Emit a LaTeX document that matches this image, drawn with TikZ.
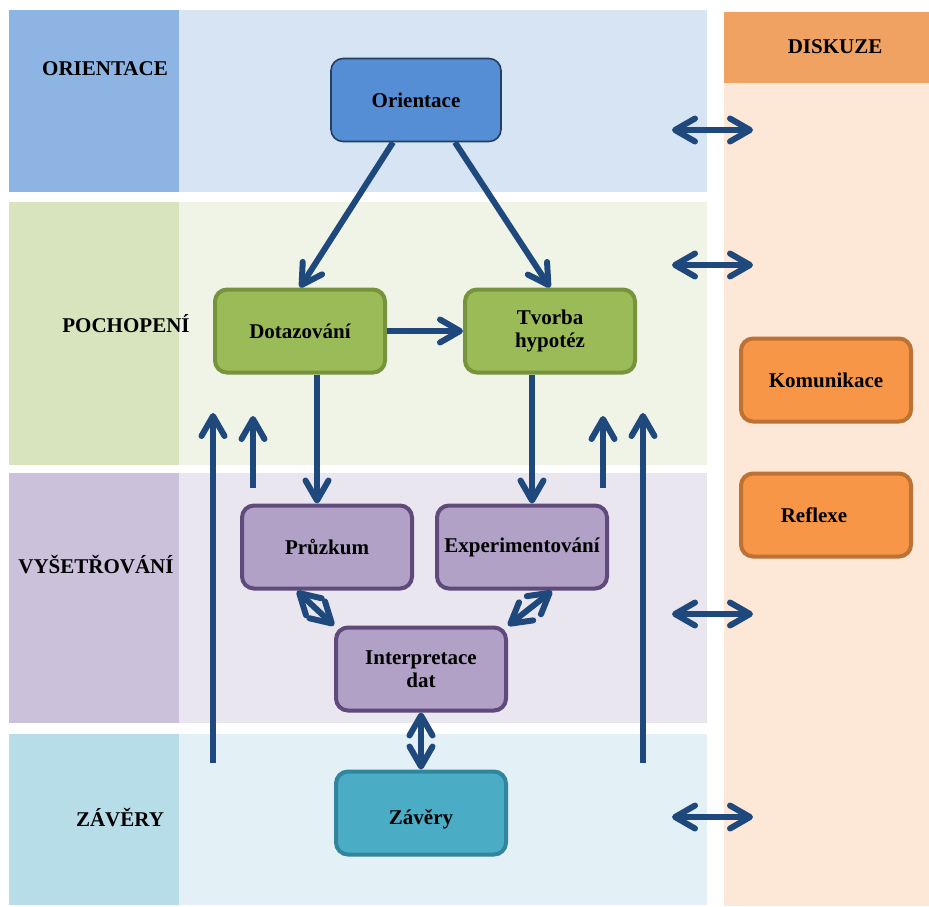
\documentclass[tikz,border=0pt]{standalone}
\usepackage{fontspec}
\setmainfont{Liberation Serif}
\usetikzlibrary{arrows.meta,calc}
\definecolor{flowblue}{HTML}{1F497D}
\definecolor{orDark}{HTML}{8EB4E3}
\definecolor{orLight}{HTML}{D7E4F4}
\definecolor{poDark}{HTML}{D7E4BD}
\definecolor{poLight}{HTML}{EFF4E7}
\definecolor{vyDark}{HTML}{CCC1DA}
\definecolor{vyLight}{HTML}{E9E6F0}
\definecolor{zaDark}{HTML}{B7DEE8}
\definecolor{zaLight}{HTML}{E3F1F6}
\definecolor{diHead}{HTML}{F0A262}
\definecolor{diBody}{HTML}{FDE7D7}
\definecolor{orFill}{HTML}{558ED5}
\definecolor{orLine}{HTML}{243F60}
\definecolor{poFill}{HTML}{9BBB59}
\definecolor{poLine}{HTML}{77933C}
\definecolor{vyFill}{HTML}{B2A1C7}
\definecolor{vyLine}{HTML}{604A7B}
\definecolor{zaFill}{HTML}{4BACC6}
\definecolor{zaLine}{HTML}{31859C}
\definecolor{diFill}{HTML}{F79646}
\definecolor{diLine}{HTML}{BC7234}
\tikzset{
  stage/.style={rounded corners=6pt,minimum width=85pt,minimum height=41.5pt,
    align=center,inner sep=2pt,line width=2pt},
  orStage/.style={stage,fill=orFill,draw=orLine,line width=0.8pt},
  poStage/.style={stage,fill=poFill,draw=poLine},
  vyStage/.style={stage,fill=vyFill,draw=vyLine},
  zaStage/.style={stage,fill=zaFill,draw=zaLine},
  diStage/.style={stage,fill=diFill,draw=diLine},
  barb/.tip={Straight Barb[length=10pt,width=11.5pt,round]},
  flow/.style={flowblue,line width=3pt,-barb},
  twoway/.style={flow,barb-barb},
}

\begin{document}
\begin{tikzpicture}[x=0.5pt,y=-0.5pt,font=\bfseries\fontsize{10.5}{11.5}\selectfont]
  \useasboundingbox (0,0) rectangle (929,906);
  % ---------- bands ----------
  \fill[orDark] (9,10) rectangle (179,192);
  \fill[orLight] (179,10) rectangle (707,192);
  \fill[poDark] (9,202) rectangle (179,465);
  \fill[poLight] (179,202) rectangle (707,465);
  \fill[vyDark] (9,473) rectangle (179,723);
  \fill[vyLight] (179,473) rectangle (707,723);
  \fill[zaDark] (9,734) rectangle (179,905);
  \fill[zaLight] (179,734) rectangle (707,905);
  \fill[diHead] (724,12) rectangle (929,83);
  \fill[diBody] (724,83) rectangle (929,906);
  \node (lOr) at (105,69) {ORIENTACE};
  \node (lPo) at (126,324) {POCHOPENÍ};
  \node (lVy) at (96,565) {VYŠETŘOVÁNÍ};
  \node (lZa) at (120,818) {ZÁVĚRY};
  \node (lDi) at (835,47) {DISKUZE};
  % ---------- stages ----------
  \node[orStage] (orient) at (416,100) {Orientace};
  \node[poStage] (dotaz) at (300,331) {Dotazování};
  \node[poStage] (tvorba) at (550,331) {Tvorba\\hypotéz};
  \node[vyStage] (pruzkum) at (327,547) {Průzkum};
  \node[vyStage] (exper) at (522,547) {Experimentování};
  \node[vyStage] (interp) at (421,669) {Interpretace\\dat};
  \node[zaStage] (zavery) at (421,813) {\raisebox{-3pt}[\height][\depth]{Závěry}};
  \node[diStage] (komun) at (826,380) {Komunikace};
  \node[diStage] (reflexe) at (826,515) {Reflexe\hspace*{12pt}};
  % ---------- connectors ----------
  \coordinate (dx) at (317,0);
  \coordinate (tx) at (532,0);
  \draw[flow] ($(orient.south)+(-23,0)$) -- (dotaz.north);
  \draw[flow] ($(orient.south)+(39,0)$) -- (tvorba.north);
  \draw[flow] (dotaz) -- (tvorba);
  \draw[flow] (dotaz.south -| dx) -- (pruzkum.north -| dx);
  \draw[flow] (tvorba.south -| tx) -- (exper.north -| tx);
  \draw[twoway] (297,591) -- (interp.north west);
  \draw[twoway] (552,591) -- (interp.north east);
  \draw[twoway] (interp) -- (zavery);
  % feedback arrows
  \foreach \x/\a/\b in {213/763/413,253/488/416,603/488/416,643/763/413}
    \draw[flow] (\x,\a) -- (\x,\b);
  % discussion arrows
  \foreach \y in {130,265,614,817}
    \draw[twoway] (672,\y) -- (753,\y);
\end{tikzpicture}
\end{document}
